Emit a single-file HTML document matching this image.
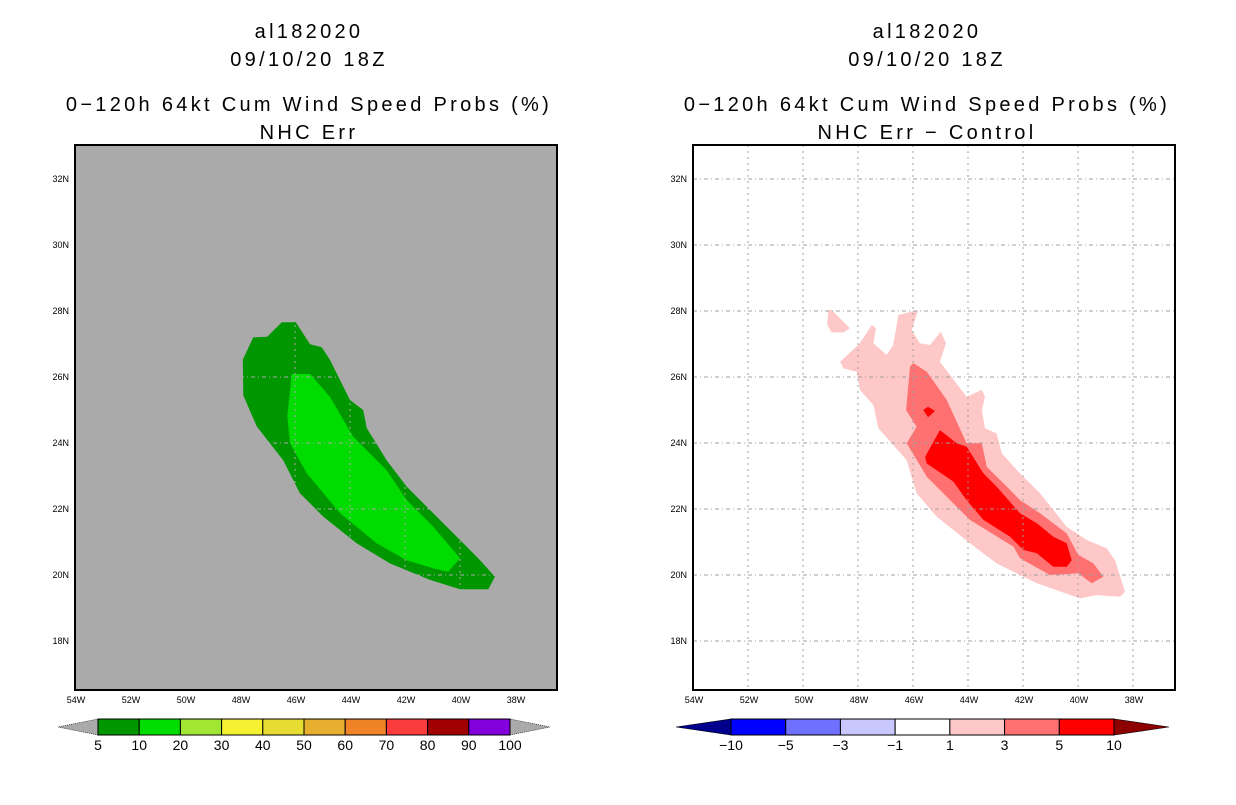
<!DOCTYPE html>
<html><head><meta charset="utf-8">
<style>
body{margin:0;background:#fff;width:1236px;height:800px;overflow:hidden}
svg text{font-family:"Liberation Sans",sans-serif}
</style></head>
<body>
<svg id="chart" width="1236" height="800" xmlns="http://www.w3.org/2000/svg"></svg>
<script>
// ---- data ----
const lonTicks=[-54,-52,-50,-48,-46,-44,-42,-40,-38];
const latTicks=[18,20,22,24,26,28,30,32];
const leftOuter10=[[-46.48,27.66],[-45.97,27.66],[-45.45,26.99],[-45.03,26.9],[-44.73,26.52],[-44,25.3],[-43.52,25.0],[-43.39,24.45],[-42.67,23.48],[-41.94,22.68],[-41.09,21.97],[-39.88,20.96],[-39.27,20.45],[-38.73,19.95],[-38.97,19.57],[-40,19.57],[-41.09,19.85],[-42.55,20.35],[-43.76,20.96],[-44.97,21.77],[-45.82,22.48],[-46.43,23.48],[-47.39,24.5],[-47.88,25.45],[-47.9,26.52],[-47.52,27.2],[-47.01,27.22]];
const leftInner20=[[-46.12,26.09],[-45.45,26.09],[-44.73,25.4],[-43.88,24.19],[-42.67,23.18],[-41.94,22.27],[-40.97,21.46],[-40,20.51],[-40.43,20.1],[-40.97,20.2],[-41.94,20.45],[-43.03,20.96],[-44.36,21.87],[-45.57,23.08],[-46.18,23.99],[-46.28,24.8]];
const rightPink=[[-48.65,26.46],[-47.93,27.02],[-47.5,27.58],[-47.35,27.48],[-47.44,27.02],[-46.96,26.67],[-46.72,26.97],[-46.53,27.88],[-45.81,28.03],[-46.05,27.42],[-45.75,27.02],[-45.38,26.97],[-44.99,27.37],[-44.8,27.02],[-45.02,26.46],[-44.05,25.4],[-43.5,25.61],[-43.38,25.4],[-43.5,25.0],[-43.38,24.45],[-42.96,24.29],[-42.77,23.69],[-42.11,23.08],[-41.38,22.48],[-40.41,21.46],[-39.68,21.06],[-38.96,20.81],[-38.65,20.45],[-38.29,19.49],[-38.47,19.34],[-39.32,19.39],[-39.93,19.29],[-41.5,19.75],[-42.96,20.35],[-43.93,20.96],[-45.14,21.77],[-45.87,22.48],[-46.23,23.48],[-47.26,24.45],[-47.44,25.15],[-47.93,25.61],[-48.05,26.16],[-48.53,26.26]];
const rightPinkBlob=[[-49.08,28.03],[-48.96,28.03],[-48.29,27.48],[-48.53,27.35],[-48.96,27.35],[-49.12,27.58]];
const rightMed=[[-45.99,26.42],[-45.5,26.16],[-44.77,25.3],[-44.05,23.99],[-43.5,23.99],[-43.32,23.28],[-42.59,22.68],[-42.11,22.27],[-41.38,21.87],[-40.41,21.26],[-39.99,20.61],[-39.44,20.35],[-39.08,19.95],[-39.5,19.75],[-39.99,20.05],[-40.47,20.02],[-41.02,20.0],[-42.11,20.51],[-42.35,20.86],[-43.93,21.67],[-44.65,22.27],[-45.5,22.98],[-46.23,23.99],[-45.87,24.49],[-46.25,25.0],[-46.11,26.31]];
const rightRed=[[-45.02,24.39],[-44.41,23.99],[-44.05,23.89],[-43.44,23.08],[-42.96,22.68],[-42.11,21.87],[-41.5,21.57],[-40.9,21.16],[-40.41,20.96],[-40.23,20.45],[-40.41,20.25],[-40.9,20.25],[-41.5,20.66],[-41.99,20.76],[-42.47,21.16],[-43.44,21.67],[-44.05,22.27],[-44.53,22.83],[-45.5,23.38],[-45.56,23.58]];
const rightRedDot=[[-45.63,25.0],[-45.45,25.1],[-45.2,24.97],[-45.45,24.78]];
const leftBarLabels=["5","10","20","30","40","50","60","70","80","90","100"];
const leftBarColors=["#009600","#00dc00","#a0e632","#f5f032","#e6dc32","#e6af2d","#f08228","#fa3c3c","#a00000","#8200dc"];
const rightBarLabels=["\u221210","\u22125","\u22123","\u22121","1","3","5","10"];
const rightBarColors=["#0000ff","#7070ff","#c8c8ff","#ffffff","#ffc8c8","#ff7070","#ff0000"];

const NS="http://www.w3.org/2000/svg";
const svg=document.getElementById('chart');
function el(tag,attrs,parent){const e=document.createElementNS(NS,tag);for(const k in attrs)e.setAttribute(k,attrs[k]);(parent||svg).appendChild(e);return e;}
function xScale(off,lon){return off+75+(lon+54)*27.5;}
function yScale(lat){return 179+(32-lat)*33;}
function poly(off,pts,fill,name){
  const p=el('polygon',{points:pts.map(q=>xScale(off,q[0]).toFixed(1)+','+yScale(q[1]).toFixed(1)).join(' '),fill:fill});
  
  
}
function panel(off,cx,titles,bg,name){
  const g=el('g',{});
  
  
  titles.forEach((t,i)=>{
    const tx=el('text',{x:cx,y:[38,66,111,139][i],'font-size':20,'text-anchor':'middle',fill:'#000','letter-spacing':'3.3'});
    tx.textContent=t;
    
    
  });
  const r=el('rect',{x:off+75,y:145,width:482,height:545,fill:bg});
  
  
  return g;
}
function grid(off,col){
  lonTicks.forEach(l=>{
    const x=xScale(off,l);
    if(x>off+76){const ln=el('line',{x1:x,y1:145,x2:x,y2:690,stroke:col,'stroke-width':1,'stroke-dasharray':'2,4'});
    
    }
  });
  latTicks.forEach(l=>{
    const y=yScale(l);
    const ln=el('line',{x1:off+75,y1:y,x2:off+557,y2:y,stroke:col,'stroke-width':1,'stroke-dasharray':'4,3,1,3'});
    
    
  });
}
function axes(off){
  const fr=el('rect',{x:off+75,y:145,width:482,height:545,fill:'none',stroke:'#000','stroke-width':2});
  
  
  lonTicks.forEach(l=>{
    const t=el('text',{x:xScale(off,l)+1,y:703,'font-size':9,'text-anchor':'middle'});
    t.textContent=(-l)+'W';
    
    
  });
  latTicks.forEach(l=>{
    const t=el('text',{x:off+69,y:yScale(l)+3,'font-size':9,'text-anchor':'end'});
    t.textContent=l+'N';
    
    
  });
}
function colorbar(x0,x1,y0,h,colors,labels,leftTri,rightTri,triW,name){
  const w=(x1-x0)/colors.length;
  const lt=el('polygon',{points:`${x0},${y0} ${x0},${y0+h} ${x0-triW},${y0+h/2}`,fill:leftTri,stroke:'#000','stroke-width':0.6,'stroke-dasharray':leftTri==='#aaaaaa'?'1,1':'none'});
  
  
  const rt=el('polygon',{points:`${x1},${y0} ${x1},${y0+h} ${x1+triW},${y0+h/2}`,fill:rightTri,stroke:'#000','stroke-width':0.6,'stroke-dasharray':rightTri==='#aaaaaa'?'1,1':'none'});
  
  
  colors.forEach((c,i)=>{
    const r=el('rect',{x:x0+i*w,y:y0,width:w,height:h,fill:c,stroke:'#000','stroke-width':1});
    
    
  });
  labels.forEach((s,i)=>{
    const t=el('text',{x:x0+i*w,y:y0+h+15,'font-size':14,'text-anchor':'middle'});
    t.textContent=s;
    
    
  });
}
// left panel
panel(0,309,["al182020","09/10/20 18Z","0\u2212120h 64kt Cum Wind Speed Probs (%)","NHC Err"],'#aaaaaa','left-panel');
poly(0,leftOuter10,'#009600','contour-10-20');
poly(0,leftInner20,'#00dc00','contour-20-30');
grid(0,'#aaaaaa');
axes(0);
colorbar(98,510,719,16,leftBarColors,leftBarLabels,'#aaaaaa','#aaaaaa',40,'left-colorbar');
// right panel
panel(618,927,["al182020","09/10/20 18Z","0\u2212120h 64kt Cum Wind Speed Probs (%)","NHC Err \u2212 Control"],'#ffffff','right-panel');
poly(618,rightPink,'#ffc8c8','contour-1-3');
poly(618,rightPinkBlob,'#ffc8c8','contour-1-3-blob');
poly(618,rightMed,'#ff7070','contour-3-5');
poly(618,rightRed,'#ff0000','contour-5-10');
poly(618,rightRedDot,'#ff0000','contour-5-10-dot');
grid(618,'#a0a0a0');
axes(618);
colorbar(731,1114,719,16,rightBarColors,rightBarLabels,'#00008c','#8c0000',55,'right-colorbar');
</script>
</body></html>
